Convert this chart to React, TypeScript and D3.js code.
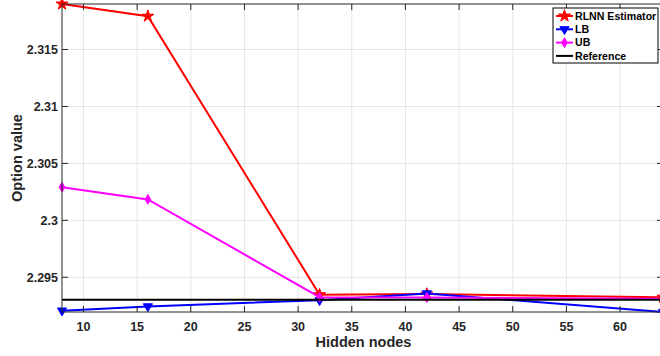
import React from 'react';
import * as d3 from 'd3';

// hidden nodes on the x axis
const hiddenNodes = [8, 16, 32, 42, 64];
const rlnn = [2.3190, 2.31793, 2.29347, 2.29352, 2.29325];
const lowerBound = [2.29207, 2.29244, 2.29298, 2.29358, 2.29195];
const upperBound = [2.30291, 2.30184, 2.29325, 2.29322, 2.29312];
const reference = 2.29302;
const xTicks = [10, 15, 20, 25, 30, 35, 40, 45, 50, 55, 60];
const yTicks = [2.295, 2.3, 2.305, 2.31, 2.315];

const width = 660;
const height = 356;
const margin = { top: 4, right: -3, bottom: 44, left: 62 };
const font = '"Liberation Sans", Arial, Helvetica, sans-serif';

const star = d3.symbol(d3.symbolStar, 45)()!;
const tri = d3.symbol(d3.symbolTriangle, 36)()!;
const diamond = d3.symbol(d3.symbolDiamond, 28)()!;

const App: React.FC = () => {
  const x = d3.scaleLinear().domain([8, 64]).range([margin.left, width - margin.right]);
  const all = [...rlnn, ...lowerBound, ...upperBound];
  const y = d3.scaleLinear()
    .domain([d3.min(all)!, d3.max(all)!])
    .range([height - margin.bottom, margin.top]);

  const line = (vals: number[]) =>
    d3.line<number>().x((_, i) => x(hiddenNodes[i])).y(d => y(d))(vals)!;

  const x0 = margin.left, x1 = width - margin.right;
  const y0 = height - margin.bottom, y1 = margin.top;
  const axisColor = '#262626';

  const series = [
    { name: 'RLNN Estimator', vals: rlnn, color: '#ff0000', marker: star, rot: 0 },
    { name: 'LB', vals: lowerBound, color: '#0000ff', marker: tri, rot: 180 },
    { name: 'UB', vals: upperBound, color: '#ff00ff', marker: diamond, rot: 0 },
  ];

  return (
    <svg width={width} height={height} style={{ position: 'absolute', left: 0, top: 0, background: '#fff' }}
      fontFamily={font} fontWeight="bold">
      {/* grid */}
      {xTicks.map(t => (
        <line key={'gx' + t} x1={x(t)} x2={x(t)} y1={y1} y2={y0} stroke="#e6e6e6" strokeWidth={1} />
      ))}
      {yTicks.map(t => (
        <line key={'gy' + t} x1={x0} x2={x1} y1={y(t)} y2={y(t)} stroke="#e6e6e6" strokeWidth={1} />
      ))}

      {series.map(s => (
        <g key={s.name}>
          <path d={line(s.vals)} fill="none" stroke={s.color} strokeWidth={2} />
          {s.vals.map((v, i) => (
            <path key={i} d={s.marker} fill={s.color} stroke={s.color}
              transform={`translate(${x(hiddenNodes[i])},${y(v)}) rotate(${s.rot})`} />
          ))}
        </g>
      ))}
      {/* reference */}
      <line x1={x0} x2={x1} y1={y(reference)} y2={y(reference)} stroke="#000" strokeWidth={2} />

      {/* box */}
      <rect x={x0} y={y1} width={x1 - x0} height={y0 - y1} fill="none" stroke={axisColor} strokeWidth={1} />
      {xTicks.map(t => (
        <g key={'tx' + t}>
          <line x1={x(t)} x2={x(t)} y1={y0} y2={y0 - 6} stroke={axisColor} />
          <line x1={x(t)} x2={x(t)} y1={y1} y2={y1 + 6} stroke={axisColor} />
          <text x={x(t)} y={y0 + 19} textAnchor="middle" fontSize={12.5} fill={axisColor}>{t}</text>
        </g>
      ))}
      {yTicks.map(t => (
        <g key={'ty' + t}>
          <line x1={x0} x2={x0 + 6} y1={y(t)} y2={y(t)} stroke={axisColor} />
          <line x1={x1} x2={x1 - 6} y1={y(t)} y2={y(t)} stroke={axisColor} />
          <text x={x0 - 4} y={y(t)} dy="0.35em" textAnchor="end" fontSize={12.5} fill={axisColor}>{t}</text>
        </g>
      ))}

      <text x={x(36) + 1} y={y0 + 35} textAnchor="middle" fontSize={14.5} fill={axisColor}>Hidden nodes</text>
      <text transform={`translate(22,${(y0 + y1) / 2}) rotate(-90)`} textAnchor="middle" fontSize={14.5} fill={axisColor}>Option value</text>

      {/* legend */}
      <g transform="translate(553,8)">
        <rect x={0} y={0} width={105} height={55} fill="#fff" stroke="#000" strokeWidth={1} />
        {[...series.map(s => ({ name: s.name, color: s.color, marker: s.marker, rot: s.rot })),
          { name: 'Reference', color: '#000', marker: null, rot: 0 }].map((s, i) => (
          <g key={s.name} transform={`translate(0,${8 + i * 13.3})`}>
            <line x1={3} x2={20} y1={0} y2={0} stroke={s.color} strokeWidth={2} />
            {s.marker && <path d={s.marker} fill={s.color} stroke={s.color} transform={`translate(11.5,0) rotate(${s.rot})`} />}
            <text x={22} y={0} dy="0.35em" fontSize={10.6} fill="#000">{s.name}</text>
          </g>
        ))}
      </g>
    </svg>
  );
};

export default App;
